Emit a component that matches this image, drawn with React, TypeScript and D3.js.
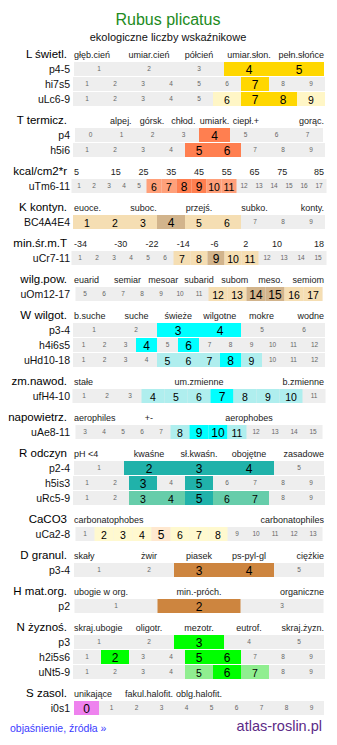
import React, { useRef, useEffect } from 'react';
import * as d3 from 'd3';

const WIDTH = 337;
const HEIGHT = 745;

interface Row {
    name: string;
    cells: number[];
    strong: number[];
    light: number[];
}

interface Section {
    title: string;
    labels: string[];
    slots: number[];
    slotCount: number;
    rows: Row[];
    strong: string;
    light: string;
}

// header labels of each scale
const L_LABELS = ["głęb.cień", "umiar.cień", "półcień", "umiar.słon.", "pełn.słońce"];
const T_LABELS = ["alpej.", "górsk.", "chłod.", "umiark.", "ciepł.+", "gorąc."];
const T_SLOTS = [1, 2, 3, 4, 5, 7];
const KCAL_LABELS = ["5", "15", "25", "35", "45", "55", "65", "75", "85"];
const K_LABELS = ["euoce.", "suboc.", "przejś.", "subko.", "konty."];
const MINT_LABELS = ["-34", "-30", "-22", "-14", "-6", "2", "10", "18"];
const WILG_LABELS = ["euarid", "semiar", "mesoar", "subarid", "subom", "meso.", "semiom"];
const W_LABELS = ["b.suche", "suche", "świeże", "wilgotne", "mokre", "wodne"];
const ZM_LABELS = ["stałe", "um.zmienne", "b.zmienne"];
const NAP_LABELS = ["aerophiles", "+-", "aerophobes"];
const NAP_SLOTS = [0, 1, 3];
const R_LABELS = ["pH <4", "kwaśne", "sł.kwaśn.", "obojętne", "zasadowe"];
const CA_LABELS = ["carbonatophobes", "carbonatophiles"];
const D_LABELS = ["skały", "żwir", "piasek", "ps-pyl-gl", "ciężkie"];
const H_LABELS = ["ubogie w org.", "min.-próch.", "organiczne"];
const N_LABELS = ["skraj.ubogie", "oligotr.", "mezotr.", "eutrof.", "skraj.żyzn."];
const S_LABELS = ["unikające", "fakul.halofit.", "oblg.halofit."];

// indicator rows: cell numbers, strongly and weakly marked values
const L_ROWS: Row[] = [
    { name: "p4-5", cells: [1, 2, 3, 4, 5], strong: [4, 5], light: [] },
    { name: "hi7s5", cells: [1, 2, 3, 4, 5, 6, 7, 8, 9], strong: [7], light: [] },
    { name: "uLc6-9", cells: [1, 2, 3, 4, 5, 6, 7, 8, 9], strong: [7, 8], light: [6, 9] },
];
const T_ROWS: Row[] = [
    { name: "p4", cells: [0, 1, 2, 3, 4, 5, 6, 7], strong: [4], light: [] },
    { name: "h5i6", cells: [1, 2, 3, 4, 5, 6, 7, 8, 9], strong: [5, 6], light: [] },
];
const KCAL_ROWS: Row[] = [
    { name: "uTm6-11", cells: [1, 2, 3, 4, 5, 6, 7, 8, 9, 10, 11, 12, 13, 14, 15, 16, 17], strong: [8, 9], light: [6, 7, 10, 11] },
];
const K_ROWS: Row[] = [
    { name: "BC4A4E4", cells: [1, 2, 3, 4, 5, 6, 7, 8, 9], strong: [4], light: [1, 2, 3, 5, 6] },
];
const MINT_ROWS: Row[] = [
    { name: "uCr7-11", cells: [1, 2, 3, 4, 5, 6, 7, 8, 9, 10, 11, 12, 13, 14, 15], strong: [9], light: [7, 8, 10, 11] },
];
const WILG_ROWS: Row[] = [
    { name: "uOm12-17", cells: [5, 6, 7, 8, 9, 10, 11, 12, 13, 14, 15, 16, 17], strong: [14, 15], light: [12, 13, 16, 17] },
];
const W_ROWS: Row[] = [
    { name: "p3-4", cells: [1, 2, 3, 4, 5, 6], strong: [3, 4], light: [] },
    { name: "h4i6s5", cells: [1, 2, 3, 4, 5, 6, 7, 8, 9, 10, 11, 12], strong: [4, 6], light: [] },
    { name: "uHd10-18", cells: [1, 2, 3, 4, 5, 6, 7, 8, 9, 10, 11, 12], strong: [8], light: [5, 6, 7, 9] },
];
const ZM_ROWS: Row[] = [
    { name: "ufH4-10", cells: [1, 2, 3, 4, 5, 6, 7, 8, 9, 10, 11], strong: [7], light: [4, 5, 6, 8, 9, 10] },
];
const NAP_ROWS: Row[] = [
    { name: "uAe8-11", cells: [3, 4, 5, 6, 7, 8, 9, 10, 11, 12, 13, 14, 15], strong: [9, 10], light: [8, 11] },
];
const R_ROWS: Row[] = [
    { name: "p2-4", cells: [1, 2, 3, 4, 5], strong: [2, 3, 4], light: [] },
    { name: "h5is3", cells: [1, 2, 3, 4, 5, 6, 7, 8, 9], strong: [3, 5], light: [] },
    { name: "uRc5-9", cells: [1, 2, 3, 4, 5, 6, 7, 8, 9], strong: [5], light: [3, 4, 6, 7] },
];
const CA_ROWS: Row[] = [
    { name: "uCa2-8", cells: [1, 2, 3, 4, 5, 6, 7, 8, 9, 10, 11, 12, 13], strong: [5], light: [2, 3, 4, 6, 7, 8] },
];
const D_ROWS: Row[] = [
    { name: "p3-4", cells: [1, 2, 3, 4, 5], strong: [3, 4], light: [] },
];
const H_ROWS: Row[] = [
    { name: "p2", cells: [1, 2, 3], strong: [2], light: [] },
];
const N_ROWS: Row[] = [
    { name: "p3", cells: [1, 2, 3, 4, 5], strong: [3], light: [] },
    { name: "h2i5s6", cells: [1, 2, 3, 4, 5, 6, 7, 8, 9], strong: [2, 5, 6], light: [] },
    { name: "uNt5-9", cells: [1, 2, 3, 4, 5, 6, 7, 8, 9], strong: [6], light: [5, 7] },
];
const S_ROWS: Row[] = [
    { name: "i0s1", cells: [0, 1, 2, 3, 4, 5, 6, 7, 8, 9], strong: [0], light: [] },
];

const seq = (n: number) => d3.range(n);

const SECTIONS: Section[] = [
    { title: "L świetl.", labels: L_LABELS, slots: seq(5), slotCount: 5, rows: L_ROWS, strong: "#ffd700", light: "#fff6c6" },
    { title: "T termicz.", labels: T_LABELS, slots: T_SLOTS, slotCount: 8, rows: T_ROWS, strong: "#ff7f50", light: "#ffa07a" },
    { title: "kcal/cm2*r", labels: KCAL_LABELS, slots: seq(9), slotCount: 9, rows: KCAL_ROWS, strong: "#ff7f50", light: "#ffa07a" },
    { title: "K kontyn.", labels: K_LABELS, slots: [0, 2, 4, 6, 8], slotCount: 9, rows: K_ROWS, strong: "#d2b48c", light: "#f5deb3" },
    { title: "min.śr.m.T", labels: MINT_LABELS, slots: seq(8), slotCount: 8, rows: MINT_ROWS, strong: "#d2b48c", light: "#f5deb3" },
    { title: "wilg.pow.", labels: WILG_LABELS, slots: seq(7), slotCount: 7, rows: WILG_ROWS, strong: "#d2b48c", light: "#f5deb3" },
    { title: "W wilgot.", labels: W_LABELS, slots: seq(6), slotCount: 6, rows: W_ROWS, strong: "#00ffff", light: "#afeeee" },
    { title: "zm.nawod.", labels: ZM_LABELS, slots: seq(3), slotCount: 3, rows: ZM_ROWS, strong: "#00ffff", light: "#afeeee" },
    { title: "napowietrz.", labels: NAP_LABELS, slots: NAP_SLOTS, slotCount: 5, rows: NAP_ROWS, strong: "#00ffff", light: "#afeeee" },
    { title: "R odczyn", labels: R_LABELS, slots: seq(5), slotCount: 5, rows: R_ROWS, strong: "#20b2aa", light: "#66cdaa" },
    { title: "CaCO3", labels: CA_LABELS, slots: seq(2), slotCount: 2, rows: CA_ROWS, strong: "#ffe8cf", light: "#fff9cf" },
    { title: "D granul.", labels: D_LABELS, slots: seq(5), slotCount: 5, rows: D_ROWS, strong: "#cd853f", light: "#cd853f" },
    { title: "H mat.org.", labels: H_LABELS, slots: seq(3), slotCount: 3, rows: H_ROWS, strong: "#cd853f", light: "#cd853f" },
    { title: "N żyznoś.", labels: N_LABELS, slots: seq(5), slotCount: 5, rows: N_ROWS, strong: "#00ff00", light: "#90ee90" },
    { title: "S zasol.", labels: S_LABELS, slots: seq(3), slotCount: 5, rows: S_ROWS, strong: "#ee82ee", light: "#ee82ee" },
];

const FONT = "'Liberation Sans', Arial, Helvetica, sans-serif";

const App: React.FC = () => {
    const ref = useRef<SVGSVGElement>(null);

    useEffect(() => {
        document.body.style.margin = "0";
        if (!ref.current) return;
        const svg = d3.select(ref.current);
        svg.selectAll("*").remove();
        svg.attr("font-family", FONT);

        const left = 74, right = 324, mid = (left + right) / 2;

        svg.append("text")
            .attr("x", 168).attr("y", 25)
            .attr("text-anchor", "middle")
            .attr("font-size", 16)
            .attr("fill", "#228b22")
            .text("Rubus plicatus");

        svg.append("text")
            .attr("x", 168).attr("y", 41)
            .attr("text-anchor", "middle")
            .attr("font-size", 11)
            .attr("fill", "#111")
            .text("ekologiczne liczby wskaźnikowe");

        let base = 58;
        SECTIONS.forEach(sec => {
            const g = svg.append("g");

            g.append("text")
                .attr("x", 67).attr("y", base)
                .attr("text-anchor", "end")
                .attr("font-size", 11.5)
                .attr("fill", "#000")
                .text(sec.title);

            const slotX = d3.scaleBand<number>().domain(d3.range(sec.slotCount)).range([left, right]);
            sec.labels.forEach((t, i) => {
                const s = sec.slots[i];
                let x = (slotX(s) ?? 0) + slotX.bandwidth() / 2;
                let anchor = "middle";
                if (s === 0) { x = left; anchor = "start"; }
                else if (s === sec.slotCount - 1) { x = right; anchor = "end"; }
                g.append("text")
                    .attr("x", x).attr("y", base)
                    .attr("text-anchor", anchor)
                    .attr("font-size", 9)
                    .attr("fill", "#222")
                    .text(t);
            });

            sec.rows.forEach((row, ri) => {
                const y = base + 4 + ri * 15;
                const n = row.cells.length;
                const step = Math.round((right - left) / n);
                const x0 = mid - (step * n) / 2;
                const x = d3.scaleBand<number>().domain(row.cells).range([x0, x0 + step * n]);

                g.append("rect")
                    .attr("x", x0).attr("y", y)
                    .attr("width", step * n).attr("height", 14)
                    .attr("fill", "#eeeeee");

                const cells = g.append("g").selectAll("g")
                    .data(row.cells)
                    .enter()
                    .append("g");

                const kind = (c: number) => row.strong.includes(c) ? 2 : row.light.includes(c) ? 1 : 0;

                cells.filter(c => kind(c) > 0)
                    .append("rect")
                    .attr("x", c => x(c) ?? 0).attr("y", y)
                    .attr("width", x.bandwidth()).attr("height", 14)
                    .attr("fill", c => kind(c) === 2 ? sec.strong : sec.light);

                cells.append("text")
                    .attr("x", c => (x(c) ?? 0) + x.bandwidth() / 2)
                    .attr("y", c => y + (kind(c) ? 11.5 : 9.3))
                    .attr("text-anchor", "middle")
                    .attr("font-size", c => kind(c) === 2 ? 12 : kind(c) === 1 ? 10.5 : 6.5)
                    .attr("fill", c => kind(c) ? "#000" : "#666")
                    .text(c => String(c));

                g.append("text")
                    .attr("x", 70).attr("y", y + 10.5)
                    .attr("text-anchor", "end")
                    .attr("font-size", 10.5)
                    .attr("fill", "#111")
                    .text(row.name);
            });

            base += sec.rows.length * 15 + 21;
        });

        svg.append("text")
            .attr("x", 10).attr("y", 732)
            .attr("font-size", 10.5)
            .attr("fill", "#3b3bff")
            .text("objaśnienie, źródła »");

        svg.append("text")
            .attr("x", 322).attr("y", 731)
            .attr("text-anchor", "end")
            .attr("font-size", 14.5)
            .attr("fill", "#5c2a86")
            .text("atlas-roslin.pl");
    }, []);

    return <svg ref={ref} width={WIDTH} height={HEIGHT}></svg>;
};

export default App;
